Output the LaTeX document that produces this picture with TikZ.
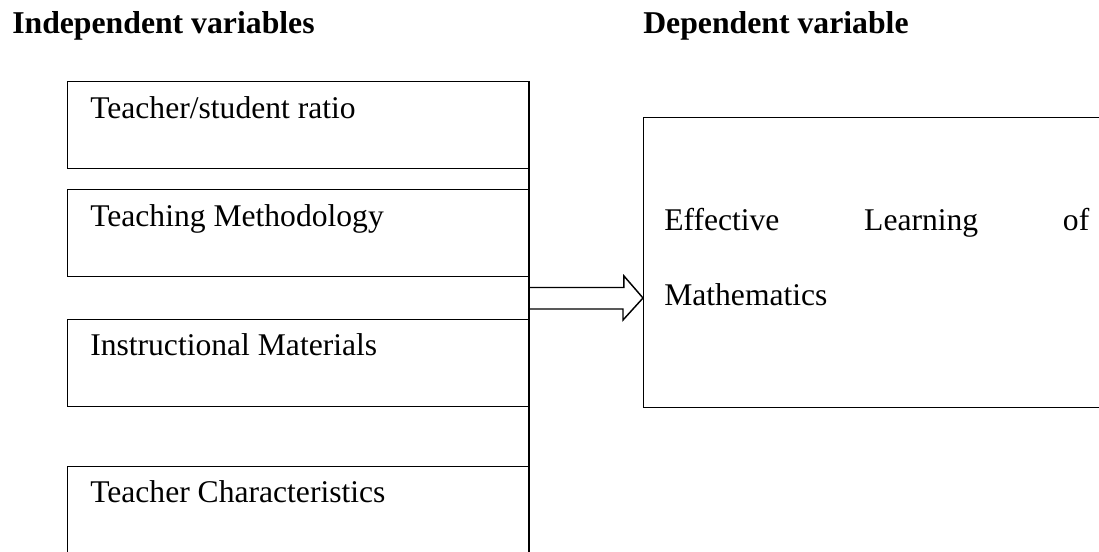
\documentclass[tikz,border=0pt]{standalone}
\usepackage{fontspec}
\setmainfont{Liberation Serif}
\begin{document}
\begin{tikzpicture}[x=0.75pt,y=-0.75pt,
  ivbox/.style={draw,line width=1.1pt,rectangle,minimum width=460.5*0.75pt,minimum height=87*0.75pt,anchor=north west,inner sep=0pt},
  lbl/.style={anchor=base west,inner sep=0pt,font=\fontsize{23.7pt}{28pt}\selectfont},
  head/.style={anchor=base west,inner sep=0pt,font=\fontsize{23.8pt}{28pt}\selectfont\bfseries},
  conn/.style={line width=1.1pt}]
\useasboundingbox (0,0) rectangle (1099,551);
\clip (0,0) rectangle (1099,551);
% headings
\node[head] (hind) at (12,33) {Independent variables};
\node[head] (hdep) at (643,33) {Dependent variable};
% independent variable boxes
\node[ivbox] (b1) at (67,81) {};
\node[ivbox] (b2) at (67,189) {};
\node[ivbox] (b3) at (67,319) {};
\node[ivbox] (b4) at (67,466) {};
\node[lbl] (t1) at (90,118) {Teacher/student ratio};
\node[lbl] (t2) at (90,226) {Teaching Methodology};
\node[lbl] (t3) at (90,355) {Instructional Materials};
\node[lbl] (t4) at (90,502) {Teacher Characteristics};
% dependent variable box
\node[draw,line width=1.1pt,rectangle,anchor=north west,inner sep=0pt,minimum width=480*0.75pt,minimum height=290*0.75pt] (dv) at (643,117) {};
\node[lbl] (e1) at (664,230) {\hbox to 318.75pt{Effective\hfill Learning\hfill of}};
\node[lbl] (e2) at (664,305) {Mathematics};
% vertical joining line
\coordinate (vbot) at (b4.north east |- 0,560);
\draw[conn] (b1.north east) -- (vbot);
% block arrow
\coordinate (as) at (b2.south east |- 0,298);
\draw[conn,line join=miter] (as) ++(0,-10.5) -- ++(95,0) -- ++(0,-11.5) -- (dv.west |- as) -- ++(-20,22) -- ++(0,-11) -- ++(-95,0);
\end{tikzpicture}
\end{document}
